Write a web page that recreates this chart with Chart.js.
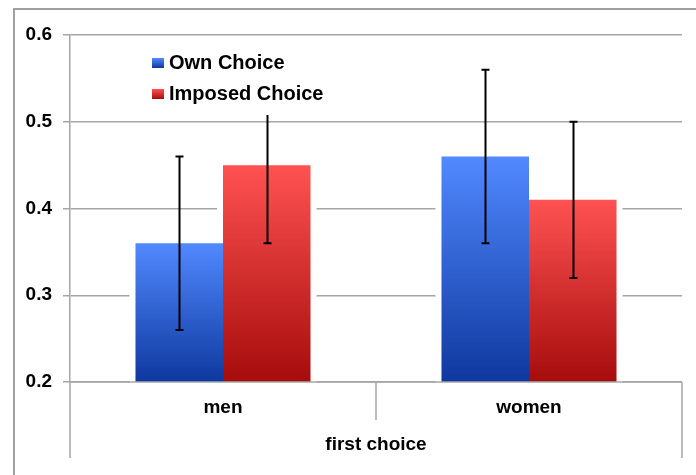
<!DOCTYPE html>
<html>
<head>
<meta charset="utf-8">
<script src="https://cdn.jsdelivr.net/npm/chart.js@4/dist/chart.umd.min.js"></script>
<style>
  html,body{margin:0;padding:0;background:#fff;}
  #wrap{width:696px;height:475px;}
</style>
</head>
<body>
<div id="wrap"><canvas id="c" width="696" height="475"></canvas></div>
<script>
// Balkendiagramm mit Fehlerbalken – first choice / men vs women
var CATEGORIES = ["men", "women"];
var OWN = [0.36, 0.46];
var IMPOSED = [0.45, 0.41];
var OWN_ERR = [0.10, 0.10];
var IMPOSED_ERR = [0.09, 0.09];
var SERIES_LABELS = ["Own Choice", "Imposed Choice"];
var AXIS_TITLE = "first choice";
var Y_MIN = 0.2, Y_MAX = 0.6, Y_STEP = 0.1;

var FONT = "Arial, 'Liberation Sans', sans-serif";
var GRID = "#a6a6a6";
var BLUE = ["#5189ff", "#0e389e"], RED = ["#ff5252", "#a60c0c"];

function barFill(cols){
  return function(c){
    var chart = c.chart, a = chart.chartArea;
    if (!a || c.raw == null) return cols[0];
    var y0 = chart.scales.y.getPixelForValue(c.raw);
    var g = chart.ctx.createLinearGradient(0, y0, 0, a.bottom);
    g.addColorStop(0, cols[0]); g.addColorStop(1, cols[1]);
    return g;
  };
}

// weisser Rand um die Balken (Gitterlinien ausgespart)
var barHalo = {
  id: "barHalo",
  beforeDatasetsDraw: function(chart){
    var ctx = chart.ctx;
    ctx.save(); ctx.fillStyle = "#fff";
    chart.data.datasets.forEach(function(ds, i){
      chart.getDatasetMeta(i).data.forEach(function(bar){
        var p = bar.getProps(["x","y","base","width"], true);
        ctx.fillRect(p.x - p.width/2 - 6, p.y - 6, p.width + 12, p.base - p.y + 5);
      });
    });
    ctx.restore();
  }
};

// Rahmen, Fehlerbalken, Achsen-Trenner, Kategorien, Legende
var extras = {
  id: "extras",
  beforeDraw: function(chart){
    var ctx = chart.ctx;
    ctx.save();
    ctx.strokeStyle = "#a0a0a0"; ctx.lineWidth = 2;
    ctx.beginPath(); ctx.moveTo(14, 475); ctx.lineTo(14, 9); ctx.lineTo(696, 9); ctx.stroke();
    ctx.restore();
  },
  afterDatasetsDraw: function(chart){
    var ctx = chart.ctx, ys = chart.scales.y, xs = chart.scales.x, a = chart.chartArea;
    var errs = [OWN_ERR, IMPOSED_ERR];
    ctx.save();
    // Grundlinie + Kategorie-Trenner
    ctx.strokeStyle = GRID; ctx.lineWidth = 1.5;
    ctx.beginPath(); ctx.moveTo(a.left, a.bottom); ctx.lineTo(a.right, a.bottom); ctx.stroke();
    var mid = (xs.getPixelForValue(0) + xs.getPixelForValue(1)) / 2;
    ctx.beginPath();
    ctx.moveTo(a.left, a.bottom); ctx.lineTo(a.left, 458);
    ctx.moveTo(mid, a.bottom); ctx.lineTo(mid, 420);
    ctx.moveTo(a.right, a.bottom); ctx.lineTo(a.right, 458);
    ctx.stroke();
    // Kategorienamen
    ctx.fillStyle = "#000"; ctx.font = "bold 19px " + FONT;
    ctx.textAlign = "center"; ctx.textBaseline = "middle";
    CATEGORIES.forEach(function(lbl, j){ ctx.fillText(lbl, xs.getPixelForValue(j), 408); });
    // Fehlerbalken
    ctx.strokeStyle = "#000"; ctx.lineWidth = 2;
    chart.data.datasets.forEach(function(ds, i){
      chart.getDatasetMeta(i).data.forEach(function(bar, j){
        var v = ds.data[j], e = errs[i][j];
        var x = Math.round(bar.x) + 0.5;
        var yt = ys.getPixelForValue(v + e), yb = ys.getPixelForValue(v - e);
        ctx.beginPath();
        ctx.moveTo(x, yt); ctx.lineTo(x, yb);
        ctx.moveTo(x - 4, yt); ctx.lineTo(x + 4, yt);
        ctx.moveTo(x - 4, yb); ctx.lineTo(x + 4, yb);
        ctx.stroke();
      });
    });
    // Legende (weisser Hintergrund)
    ctx.fillStyle = "#fff";
    ctx.fillRect(142, 46, 190, 69);
    var cols = [BLUE, RED], ys0 = [63, 94];
    ctx.font = "bold 20px " + FONT; ctx.textBaseline = "middle"; ctx.textAlign = "left";
    SERIES_LABELS.forEach(function(lbl, i){
      var g = ctx.createLinearGradient(0, ys0[i] - 5, 0, ys0[i] + 5);
      g.addColorStop(0, cols[i][0]); g.addColorStop(1, cols[i][1]);
      ctx.fillStyle = g; ctx.fillRect(152, ys0[i] - 5, 12, 10);
      ctx.fillStyle = "#000"; ctx.fillText(lbl, 169, ys0[i]);
    });
    ctx.restore();
  }
};

new Chart(document.getElementById("c"), {
  type: "bar",
  data: {
    labels: CATEGORIES,
    datasets: [
      { label: SERIES_LABELS[0], data: OWN, backgroundColor: barFill(BLUE), borderWidth: 0 },
      { label: SERIES_LABELS[1], data: IMPOSED, backgroundColor: barFill(RED), borderWidth: 0 }
    ]
  },
  options: {
    responsive: false, animation: false,
    layout: { padding: { top: 35, right: 14, left: 0, bottom: 0 } },
    datasets: { bar: { categoryPercentage: 0.572, barPercentage: 1 } },
    plugins: { legend: { display: false }, tooltip: { enabled: false } },
    scales: {
      x: {
        grid: { display: false, drawTicks: false, tickLength: 0 },
        border: { display: false },
        ticks: { display: false },
        title: { display: true, text: AXIS_TITLE, color: "#000", padding: { top: 0, bottom: 19 },
                 font: { family: FONT, size: 19, weight: "bold" } },
        afterFit: function(s){ s.height = 93; }
      },
      y: {
        min: Y_MIN, max: Y_MAX,
        grid: { color: GRID, lineWidth: 1.5, tickLength: 7 },
        border: { color: GRID, width: 1.5 },
        ticks: { stepSize: Y_STEP, color: "#000", padding: 11,
                 font: { family: FONT, size: 19, weight: "bold" },
                 callback: function(v){ return v.toFixed(1); } },
        afterFit: function(s){ s.width = 70; }
      }
    }
  },
  plugins: [barHalo, extras]
});
</script>
</body>
</html>
